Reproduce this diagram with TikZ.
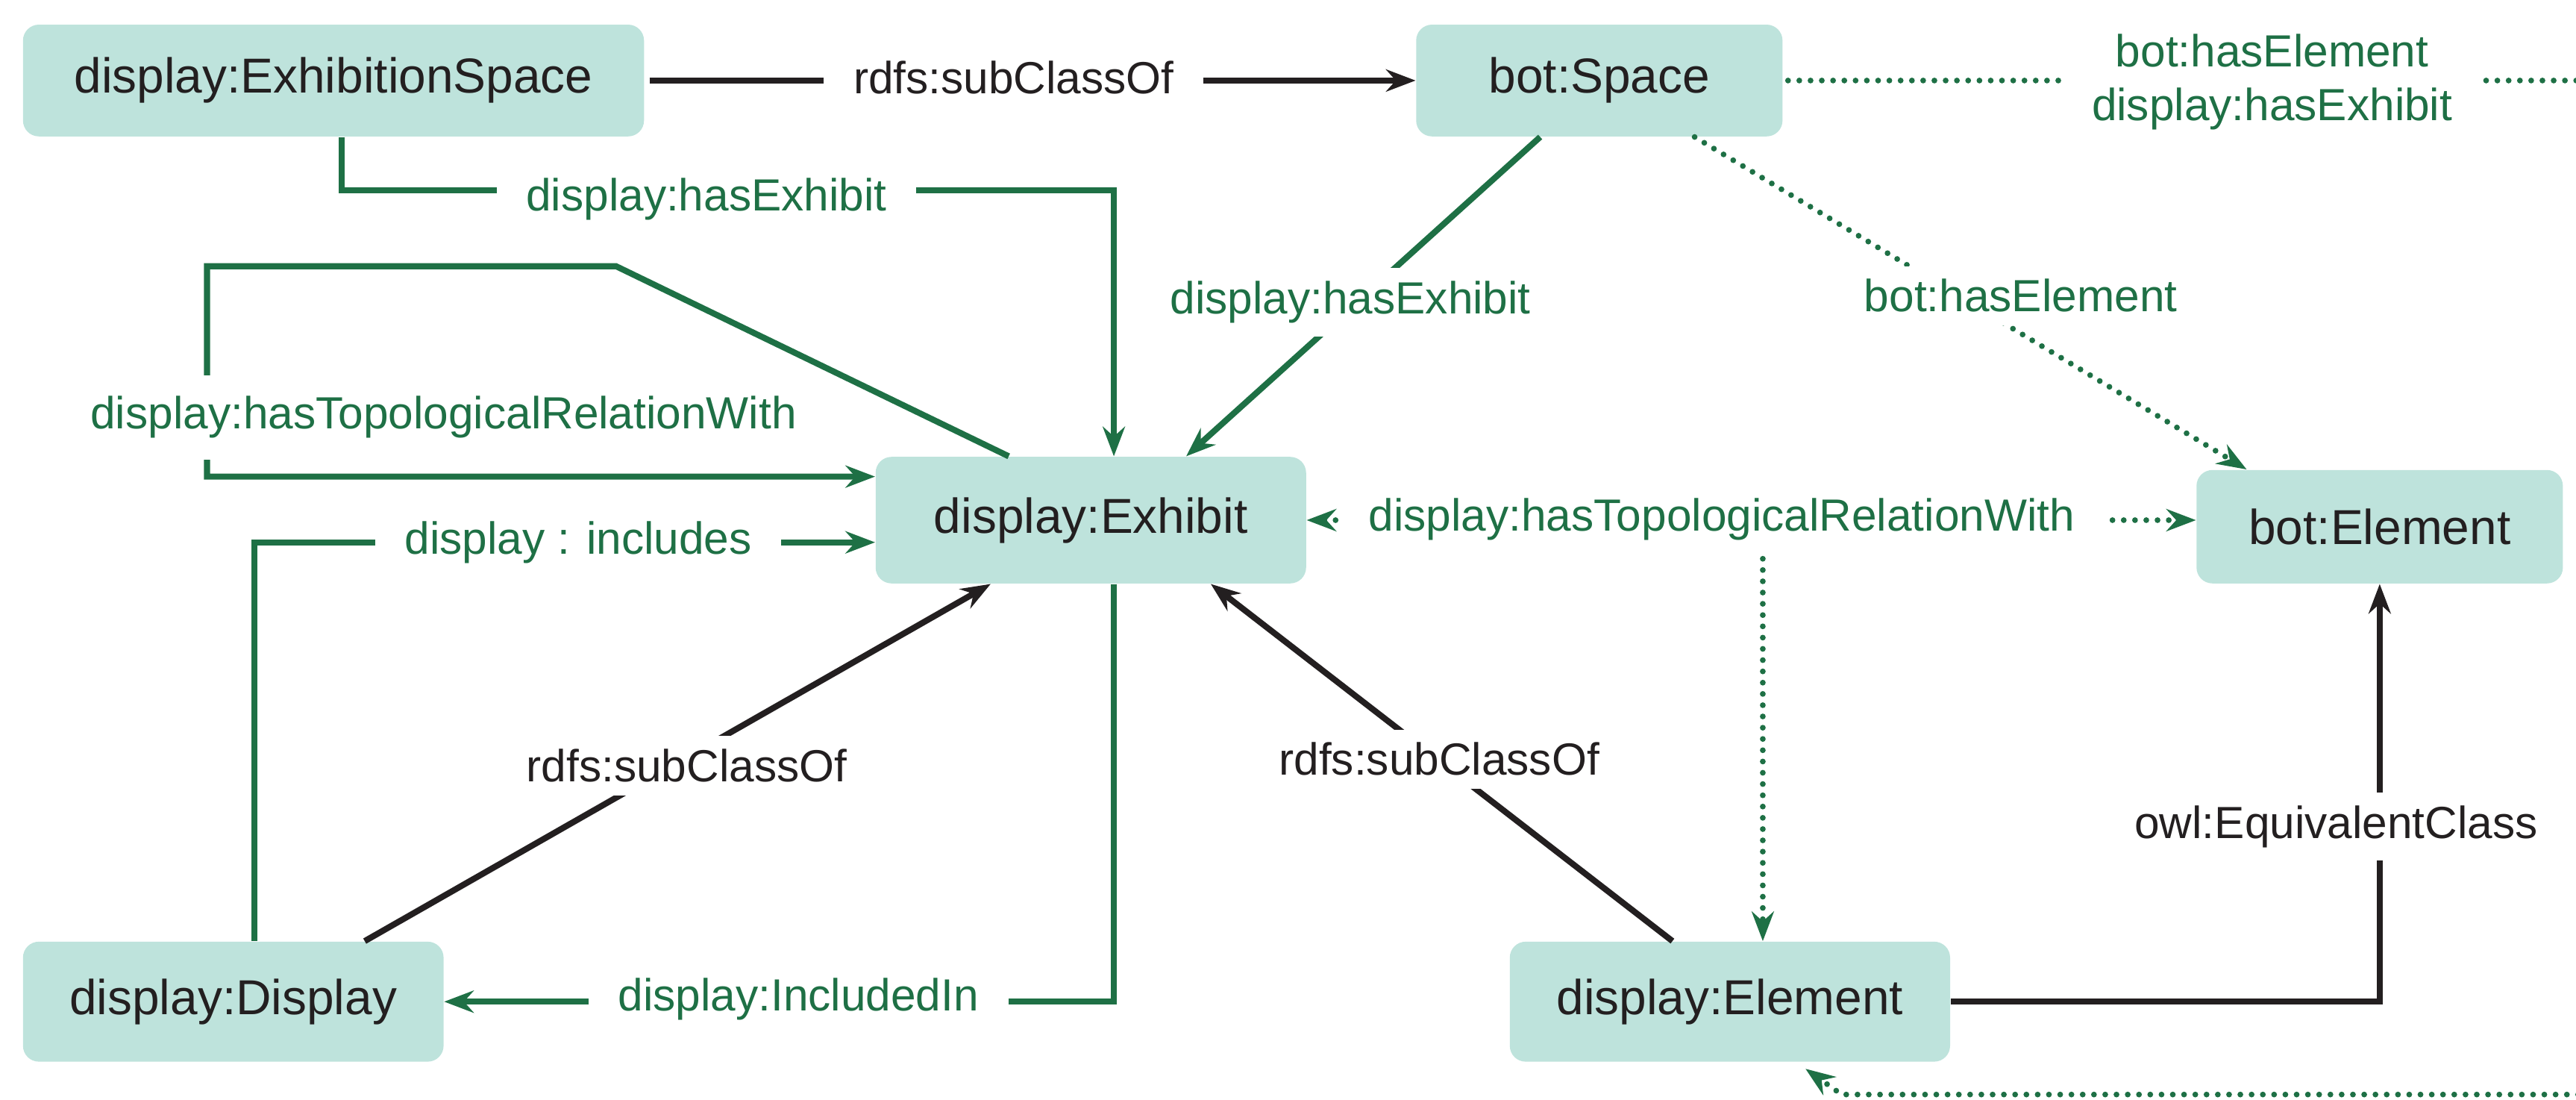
\documentclass[tikz,border=0pt]{standalone}
\usepackage{fontspec}
\setmainfont{Liberation Sans}
\usetikzlibrary{arrows.meta, positioning, calc}
\definecolor{cTeal}{RGB}{190,227,220}
\definecolor{cGreen}{RGB}{30,112,69}
\definecolor{cInk}{RGB}{35,31,32}
\tikzset{
	cls/.style    ={rectangle, rounded corners=5.5pt, fill=cTeal, text=cInk, inner sep=0pt, font=\fontsize{17}{20}\selectfont},
	lbl/.style    ={fill=white, inner xsep=0.36cm, inner ysep=0.16cm, align=center, font=\fontsize{15.6}{18.5}\selectfont},
	tip/.style    ={-{Stealth[length=3.6mm, width=2.7mm, inset=1.2mm]}},
	subcls/.style ={tip, line width=2.1pt, draw=cInk},
	rel/.style    ={tip, line width=2.1pt, draw=cGreen},
	dotrel/.style ={tip, line width=2pt, draw=cGreen, dash pattern=on 0pt off 3.9pt, line cap=round},
}

\begin{document}
\begin{tikzpicture}[x=0.2mm, y=-0.2mm]
	\useasboundingbox (0,0) rectangle (1568,669);
	\clip (0,0) rectangle (1568,669);
	% classes
	\node[cls, minimum width=7.56cm, minimum height=1.36cm] (es) at (203,49) {display:ExhibitionSpace};
	\node[cls, minimum width=4.46cm, minimum height=1.36cm] (bs) at (973.5,49) {bot:Space};
	\node[cls, minimum width=5.24cm, minimum height=1.54cm] (ex) at (664,316.5) {display:Exhibit};
	\node[cls, minimum width=4.46cm, minimum height=1.38cm] (be) at (1448.5,320.5) {bot:Element};
	\node[cls, minimum width=5.12cm, minimum height=1.46cm] (dd) at (142,609.5) {display:Display};
	\node[cls, minimum width=5.36cm, minimum height=1.46cm] (de) at (1053,609.5) {display:Element};
	% bends
	\coordinate (tl1) at (375,162);
	\coordinate (tl2) at (126,162);
	\coordinate (tl3) at (126,290);
	\coordinate (tj) at (1073,340);
	\coordinate (offA) at (1620,49);
	\coordinate (offB) at (1620,666);
	\coordinate (bb) at (1121,666);
	% subclass links
	\draw[subcls] ($(es.east)+(3,0)$) -- (bs.west);
	\draw[subcls] ($(dd.north)+(80,0)$) -- ($(ex.south)+(-61,0)$);
	\draw[subcls] ($(de.north)+(-35,0)$) -- ($(ex.south)+(73,0)$);
	\draw[subcls] (de.east) -| (be.south);
	% object properties
	\draw[rel] ($(es.south)+(5,0)$) |- ($(ex.north)+(14,-162)$) -- ($(ex.north)+(14,0)$);
	\draw[rel] ($(ex.north)+(-50,0)$) -- (tl1) -- (tl2) -- (tl3) -- (tl3 -| ex.west);
	\draw[rel] ($(bs.south)+(-36,0)$) -- ($(ex.north)+(58,0)$);
	\draw[rel] ($(dd.north)+(13,0)$) |- ($(ex.west)+(0,13.5)$);
	\draw[rel] ($(ex.south)+(14,0)$) |- (dd.east);
	\draw[dotrel] ($(bs.south)+(58,0)$) -- ($(be.north)+(-81,0)$);
	\draw[dotrel, {Stealth[length=3.6mm, width=2.7mm, inset=1.2mm]}-{Stealth[length=3.6mm, width=2.7mm, inset=1.2mm]}] (ex.east) -- (ex.east -| be.west);
	\draw[dotrel] (tj) -- ($(de.north)+(20,0)$);
	\draw[dotrel] ($(bs.east)+(3,0)$) -- (offA) -- (offB) -- (bb) -- ($(de.south)+(46,4)$);
	% labels
	\node[lbl, text=cInk] (l1) at (617,47) {rdfs:subClassOf};
	\node[lbl, text=cInk] (l2) at (418,466) {rdfs:subClassOf};
	\node[lbl, text=cInk] (l3) at (876,462) {rdfs:subClassOf};
	\node[lbl, text=cInk] (l4) at (1422,503) {owl:EquivalentClass};
	\node[lbl, text=cGreen] (l5) at (430,121) {display:hasExhibit};
	\node[lbl, text=cGreen, inner ysep=0.26cm] (l6) at (270,254) {display:hasTopologicalRelationWith};
	\node[lbl, text=cGreen] (l7) at (822,184) {display:hasExhibit};
	\node[lbl, text=cGreen] (l8) at (1230,180) {bot:hasElement};
	\node[lbl, text=cGreen] (l9) at (1383,50) {bot:hasElement\\display:hasExhibit};
	\node[lbl, text=cGreen] (l10) at (1048,316) {display:hasTopologicalRelationWith};
	\node[lbl, text=cGreen] (l11) at (352,330) {display : includes};
	\node[lbl, text=cGreen] (l12) at (486,608) {display:IncludedIn};
\end{tikzpicture}
\end{document}
